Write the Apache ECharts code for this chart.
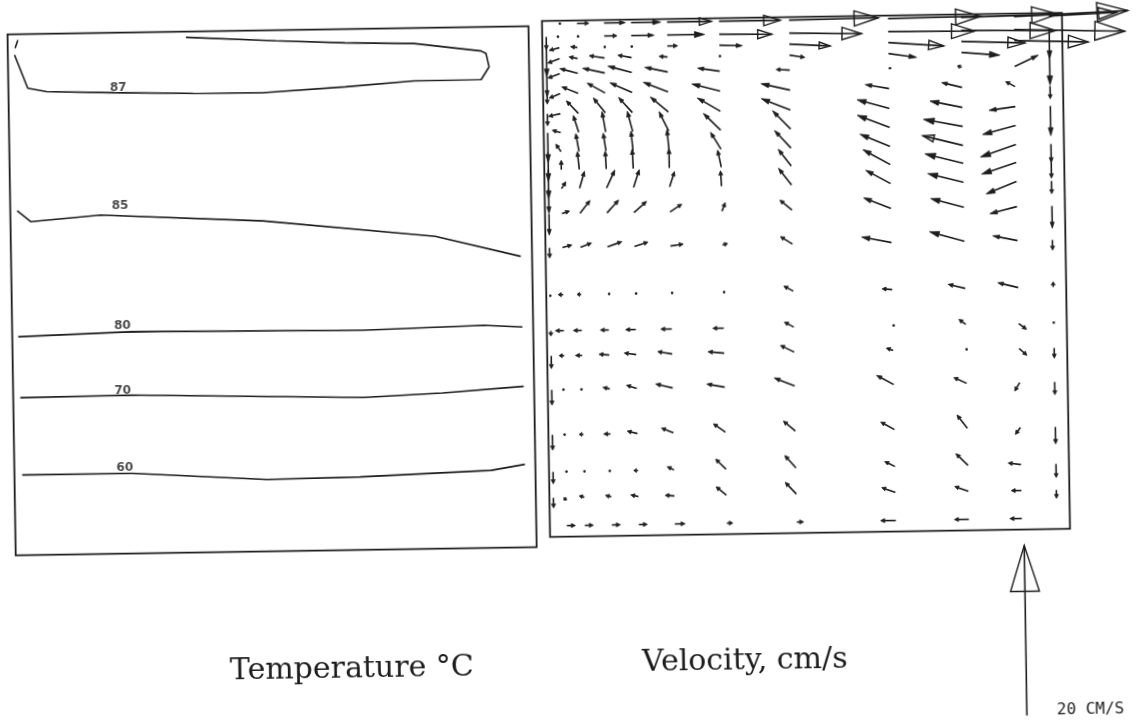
<!DOCTYPE html>
<html>
<head>
<meta charset="utf-8">
<script src="https://cdn.jsdelivr.net/npm/echarts@6/dist/echarts.min.js"></script>
<style>
  html, body { margin: 0; padding: 0; background: #ffffff; overflow: hidden; width: 1137px; height: 721px; }
  #chart { position: absolute; left: -20px; top: -20px; width: 1177px; height: 761px; transform: rotate(-0.9deg); }
</style>
</head>
<body>
<div id="chart"></div>
<script>
// ---------------- DATA ----------------
// Temperature panel: isotherm polylines, [x (cm), depth (cm)]
const CONTOUR_87 = [[0.67,2.06],[1.94,5.41],[3.83,5.78],[10.55,5.99],[18.47,6.18],[25.37,6.23],[33.68,5.77],[40.59,5.28],[47.29,5.25],[48.1,4.0],[47.82,2.66],[47.32,2.39],[40.63,1.54],[33.73,1.37],[26.83,1.06],[17.84,0.57]];
const CONTOUR_87_TICK = [[1.02,0.57],[0.74,1.39]];
const CONTOUR_85 = [[0.69,17.64],[2.05,18.76],[9.02,18.2],[25.22,19.04],[42.45,20.85],[50.97,22.99]];
const CONTOUR_80 = [[0.6,30.24],[11.98,29.92],[35.09,30.13],[47.17,29.83],[51.03,30.06]];
const CONTOUR_70 = [[0.71,36.34],[11.91,36.25],[35.01,36.86],[42.95,36.53],[51.06,35.99]];
const CONTOUR_60 = [[0.78,44.07],[11.81,44.08],[25.24,44.9],[34.57,44.79],[47.69,44.34],[51.06,43.79]];
const CONTOUR_LABELS = [[10.98,5.53,'87'],[10.98,17.31,'85'],[11.04,29.29,'80'],[10.96,35.82,'70'],[11.05,43.49,'60']];

// Velocity panel: grid nodes (cm) and velocity components (cm/s, V positive upward)
const COL_X = [0.4, 1.7, 3.5, 6.2, 8.9, 12.5, 17.7, 24.7, 34.6, 41.9, 47.2, 50.7];
const ROW_DEPTH = [0.3, 1.6, 2.7, 3.8, 5.3, 7.3, 9.3, 11.2, 13.1, 14.9, 16.8, 19.3, 22.7, 27.4, 31.0, 33.5, 36.9, 41.4, 45.1, 47.7, 50.5];
const U = [
  [null, 0.2, 1.4, 2.5, 3.5, 5.2, 7.2, 10.5, 10.9, 11.4, 13.4, 8.0],
  [0, -0.3, 0.2, 1.5, 2.7, 4.4, 6.2, 8.5, 10.2, 11.1, 13.0, 0],
  [0, -1.2, -0.8, 0.1, 0.1, 1.2, 2.7, 4.8, 6.5, 7.5, 8.7, null],
  [null, -1.4, -1.0, -1.8, -1.6, -1.0, 0.1, 1.8, 3.3, 4.5, null, 0],
  [0, -1.4, -2.1, -2.6, -2.8, -2.7, -2.6, -1.6, 0.3, -0.5, 2.8, null],
  [0, -1.3, -1.9, -2.1, -2.6, -2.9, -3.3, -3.4, -2.8, -2.4, -1.1, 0],
  [0, -1.4, -1.4, -1.4, -1.6, -2.1, -2.7, -3.4, -3.8, -3.8, -3.1, 0],
  [0, -1.0, -0.6, -0.4, -0.6, -1.1, -2.0, -2.1, -3.8, -4.6, -3.9, null],
  [0, -0.6, -0.35, -0.3, -0.2, -0.2, -1.2, -1.9, -3.5, -4.7, -4.2, 0],
  [0, 0, -0.2, -0.1, -0.1, 0, -0.4, -1.5, -3.2, -4.5, -4.1, 0],
  [0, 0.5, 0.6, 1.0, 0.7, 0.6, -0.1, -1.5, -2.9, -4.2, -3.6, 0],
  [0, 0.9, 1.2, 1.4, 1.5, 1.4, 0.4, -1.4, -3.2, -3.9, -3.2, 0],
  [0, 1.1, 1.3, 1.7, 1.6, 1.5, 0.6, -1.4, -3.5, -4.1, -2.9, 0],
  [0, -0.6, -0.5, 0.2, 0.2, 0.2, 0.2, -1.1, -1.2, -2.0, -2.4, 0],
  [0, -1.0, -1.0, -1.0, -1.2, -1.3, -1.3, -1.1, 0.2, -0.8, 0.9, 0],
  [0, -0.6, -0.8, -1.2, -1.4, -1.7, -1.9, -1.6, -0.8, 0.1, 0.9, 0],
  [0, -0.3, -0.3, -0.8, -1.2, -2.0, -2.1, -2.4, -2.0, -1.5, -0.6, 0],
  [0, -0.2, -0.5, -0.8, -1.2, -1.4, -1.4, -1.4, -1.6, -1.2, -0.6, 0],
  [0, 0.1, 0.1, -0.3, -0.5, -0.8, -1.2, -1.3, -1.2, -1.4, -1.5, 0],
  [0, -0.3, -0.6, -0.7, -0.9, -1.1, -1.2, -1.3, -1.6, -1.6, -1.2, 0],
  [null, 1.0, 1.0, 1.0, 1.0, 1.2, 0.7, 0.8, -1.8, -1.7, -1.4, null]
];
const V = [
  [null, 0, 0, 0, 0, 0, 0, 0.1, 0.1, 0.2, 0.5, 0.3],
  [-1.5, 0, 0, 0, 0, 0, -0.1, -0.2, -0.1, -0.2, -0.4, -3.5],
  [-3.4, -0.3, 0.1, 0, 0, 0, -0.1, -0.3, -0.5, -0.3, -0.3, null],
  [null, -0.5, 0.2, 0.3, 0.3, 0.1, 0, -0.3, -0.5, -0.4, null, -4.0],
  [-2.7, -0.5, 0.6, 0.6, 0.8, 0.6, 0.4, 0.1, 0.1, 0.2, 1.3, null],
  [-1.2, -0.5, 0.8, 1.2, 1.2, 1.2, 0.9, 0.8, 0.5, 0.6, 0.6, -1.5],
  [-1.4, -0.3, 1.5, 1.8, 1.8, 1.8, 1.6, 1.4, 1.1, 0.8, -0.4, -3.5],
  [-3.5, 0.3, 2.0, 2.4, 2.4, 2.3, 2.0, 2.2, 1.5, 0.9, -1.0, null],
  [-3.5, 0.9, 2.1, 2.1, 2.3, 2.4, 2.0, 2.1, 1.5, 1.2, -1.4, -2.2],
  [-3.4, 1.1, 2.1, 2.1, 2.3, 2.3, 2.0, 2.0, 1.8, 1.2, -1.3, -1.9],
  [-2.9, 0.8, 2.0, 2.1, 2.1, 1.8, 1.8, 2.0, 1.6, 1.1, -1.4, -1.5],
  [-2.5, 0.3, 1.5, 1.5, 1.3, 0.9, 1.0, 1.2, 1.3, 1.1, -0.8, -2.6],
  [-1.2, 0.3, 0.5, 0.6, 0.5, 0.2, 0.2, 0.9, 0.7, 1.2, 0.6, -1.2],
  [-0.2, 0, 0, 0, 0, 0, 0, 0.6, 0.1, 0.5, 0.6, 0.6],
  [-0.6, 0, 0, 0, 0, 0, 0, 0.6, 0, 0.6, -0.7, 0.1],
  [-1.5, 0, 0, 0.1, 0.2, 0.3, 0.2, 0.8, 0.3, 0, -0.8, -1.2],
  [-1.8, 0, 0, 0.2, 0.4, 0.5, 0.4, 1.0, 1.1, 0.7, -1.0, -1.5],
  [-1.8, 0, 0, 0, 0.3, 0.6, 1.0, 1.2, 0.9, 1.6, -0.8, -2.0],
  [-1.4, 0, 0, 0, 0, 0.4, 1.2, 1.5, 0.6, 1.4, 0.2, -1.6],
  [-1.2, -0.3, 0.2, 0.2, 0.2, 0.1, 1.0, 1.4, 0.6, 0.6, 0, -1.0],
  [null, 0, 0, 0, 0, 0, 0, 0, 0, 0, 0, null]
];
const SCALE_CMS = 20;            // reference vector magnitude (cm/s)
const SCALE_POS = [47.4, 70.2];  // reference vector tail (cm), below the panel

// ---------------- DRAWING ----------------
const INK = '#1c1c1c';
const K = 0.85; // cm of plot per cm/s of velocity

const vectorData = [];
for (let r = 0; r < ROW_DEPTH.length; r++) {
  for (let c = 0; c < COL_X.length; c++) {
    if (U[r][c] === null || V[r][c] === null) continue;
    vectorData.push([COL_X[c], ROW_DEPTH[r], U[r][c], V[r][c]]);
  }
}

function arrowShapes(p0, p1) {
  const dx = p1[0] - p0[0], dy = p1[1] - p0[1];
  const L = Math.hypot(dx, dy);
  if (L < 3) {
    return [{ type: 'circle', shape: { cx: p0[0] + dx / 2, cy: p0[1] + dy / 2, r: 1.3 }, style: { fill: INK } }];
  }
  const ux = dx / L, uy = dy / L, nx = -uy, ny = ux;
  const open = L >= 40;
  const hl = open ? 0.27 * L : Math.min(Math.max(0.27 * L, 4), 0.6 * L);
  const hw = open ? 0.085 * L : Math.max(0.08 * L, 2.0);
  const bx = p1[0] - ux * hl, by = p1[1] - uy * hl;
  return [
    { type: 'line', shape: { x1: p0[0], y1: p0[1], x2: open ? p1[0] : bx, y2: open ? p1[1] : by },
      style: { stroke: INK, lineWidth: 1.6 } },
    { type: 'polygon', shape: { points: [[p1[0], p1[1]], [bx + nx * hw, by + ny * hw], [bx - nx * hw, by - ny * hw]] },
      style: open ? { fill: 'none', stroke: INK, lineWidth: 1.4 } : { fill: INK, stroke: INK, lineWidth: 0.8 } }
  ];
}

function renderVector(params, api) {
  const x = api.value(0), d = api.value(1), u = api.value(2), v = api.value(3);
  const p0 = api.coord([x, d]);
  const p1 = api.coord([x + u * K, d - v * K]);
  return { type: 'group', children: arrowShapes(p0, p1) };
}

function renderScale(params, api) {
  const x = api.value(0), d = api.value(1), v = api.value(3);
  const p0 = api.coord([x, d]);
  const p1 = api.coord([x, d - v * K]);
  const children = arrowShapes(p0, p1);
  children.push({ type: 'text', style: { text: SCALE_CMS + ' CM/S', x: p0[0] + 30, y: p0[1] - 5,
    textVerticalAlign: 'middle', font: '16px "DejaVu Sans Mono"', fill: INK } });
  return { type: 'group', children: children };
}

function contour(data) {
  return { type: 'line', xAxisIndex: 0, yAxisIndex: 0, data: data, showSymbol: false, symbol: 'none',
    lineStyle: { color: INK, width: 1.6 }, silent: true, z: 3 };
}

const chart = echarts.init(document.getElementById('chart'));
chart.setOption({
  animation: false,
  backgroundColor: '#ffffff',
  grid: [
    { left: 32.7, top: 45.7, width: 521, height: 521, show: true, borderColor: INK, borderWidth: 1.8, backgroundColor: 'transparent' },
    { left: 567.3, top: 40.6, width: 520, height: 516, show: true, borderColor: INK, borderWidth: 1.8, backgroundColor: 'transparent' }
  ],
  xAxis: [
    { type: 'value', gridIndex: 0, min: 0, max: 52.1, show: false },
    { type: 'value', gridIndex: 1, min: 0, max: 52.0, show: false }
  ],
  yAxis: [
    { type: 'value', gridIndex: 0, min: 0, max: 52.1, inverse: true, show: false },
    { type: 'value', gridIndex: 1, min: 0, max: 51.6, inverse: true, show: false }
  ],
  graphic: [
    { type: 'text', style: { text: 'Temperature °C', x: 367, y: 686, textAlign: 'center', textVerticalAlign: 'middle',
      font: '30px "DejaVu Serif"', fill: INK } },
    { type: 'text', style: { text: 'Velocity, cm/s', x: 760, y: 684, textAlign: 'center', textVerticalAlign: 'middle',
      font: '30px "DejaVu Serif"', fill: INK } }
  ],
  series: [
    contour(CONTOUR_87), contour(CONTOUR_87_TICK), contour(CONTOUR_85),
    contour(CONTOUR_80), contour(CONTOUR_70), contour(CONTOUR_60),
    { type: 'scatter', xAxisIndex: 0, yAxisIndex: 0, data: CONTOUR_LABELS, symbol: 'circle', symbolSize: 1,
      itemStyle: { color: 'rgba(0,0,0,0)' }, silent: true, z: 4,
      label: { show: true, position: 'inside', formatter: p => p.value[2], fontFamily: 'DejaVu Sans',
        fontWeight: 'bold', fontSize: 12, color: INK } },
    { type: 'custom', xAxisIndex: 1, yAxisIndex: 1, data: vectorData, renderItem: renderVector,
      encode: { x: 0, y: 1 }, clip: false, silent: true, z: 5 },
    { type: 'custom', xAxisIndex: 1, yAxisIndex: 1, data: [[SCALE_POS[0], SCALE_POS[1], 0, SCALE_CMS]],
      renderItem: renderScale, encode: { x: 0, y: 1 }, clip: false, silent: true, z: 5 }
  ]
});
</script>
</body>
</html>
